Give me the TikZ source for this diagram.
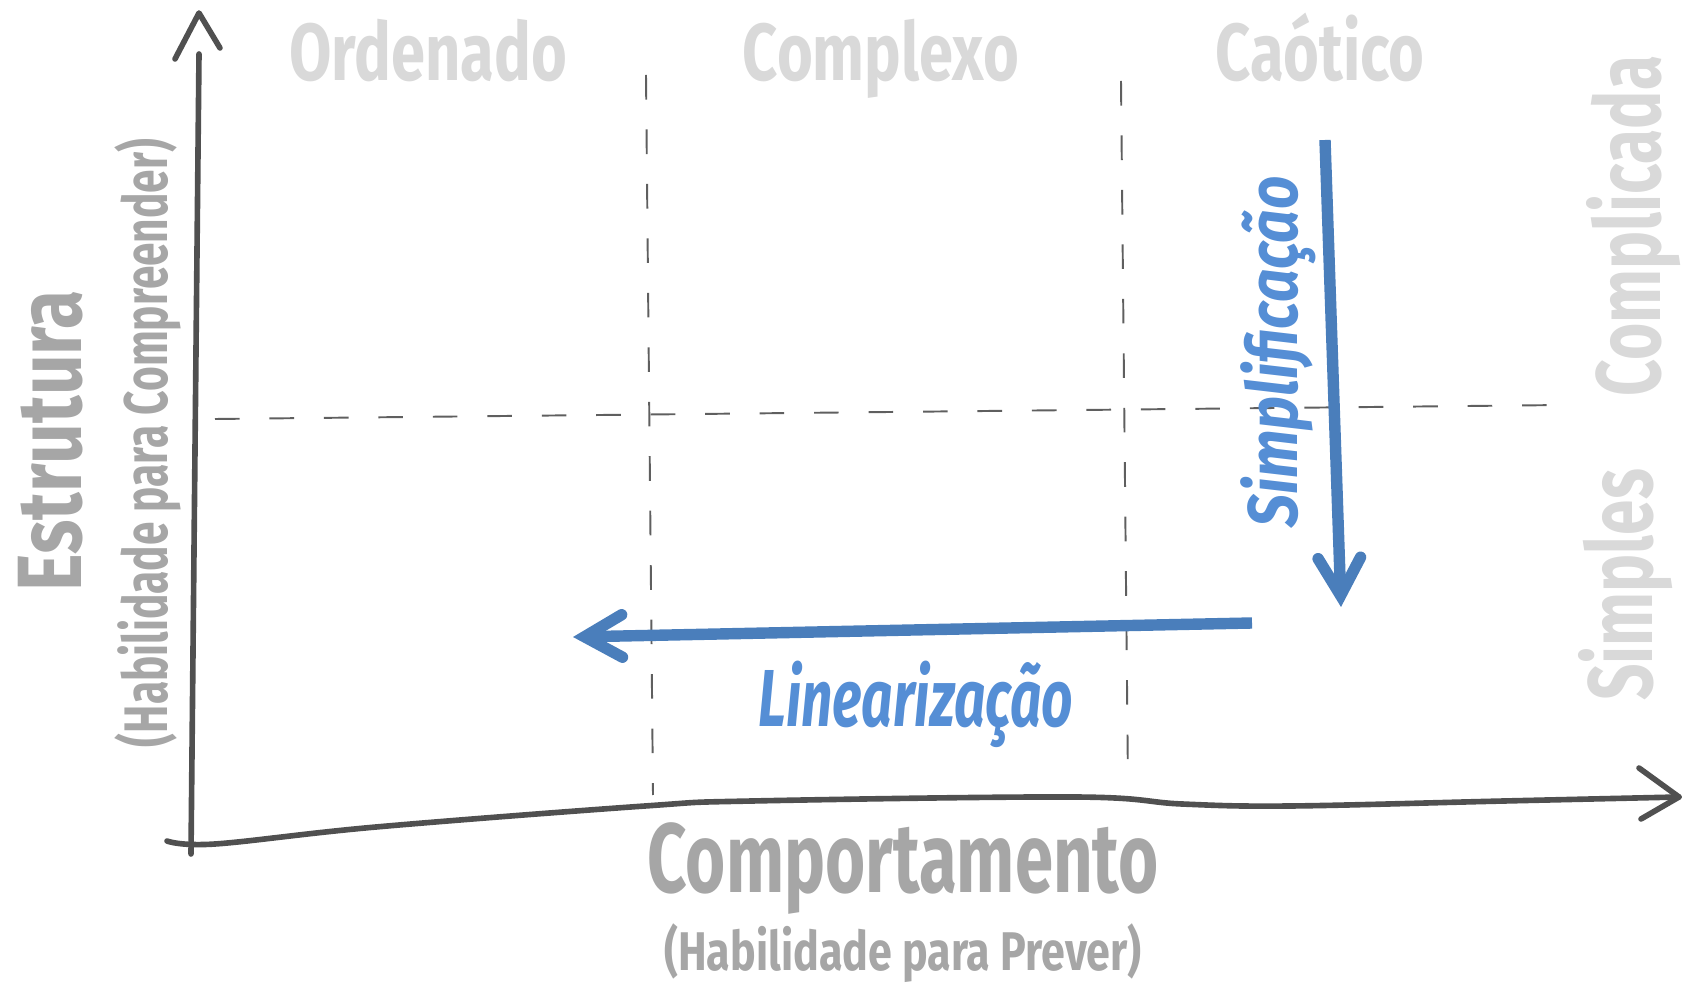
\documentclass[tikz,border=0pt]{standalone}
\usepackage{fontspec}
\setmainfont{Fira Sans}
\usetikzlibrary{arrows.meta}
\definecolor{LightGray}{RGB}{217,217,217}
\definecolor{MidGray}{RGB}{166,166,166}
\definecolor{AxisGray}{RGB}{80,80,80}
\definecolor{DashGray}{RGB}{95,95,95}
\definecolor{ArrowBlue}{RGB}{74,126,187}
\definecolor{TextBlue}{RGB}{85,142,213}
\newcommand{\squeeze}[2]{\scalebox{#1}[1]{#2}}

\begin{document}
\begin{tikzpicture}[x=0.02cm, y=-0.02cm, every node/.style={inner sep=0pt, anchor=base},
  regionlabel/.style={text=LightGray, font=\fontsize{46}{50}\selectfont\bfseries},
  axistitle/.style={text=MidGray, font=\fontsize{56}{60}\selectfont\bfseries},
  axissub/.style={text=MidGray, font=\fontsize{31}{34}\selectfont\bfseries},
  movelabel/.style={text=TextBlue, font=\fontsize{46}{50}\selectfont\bfseries\itshape},
  axisline/.style={draw=AxisGray, line width=3.2pt, line cap=round, line join=round},
  gridline/.style={draw=DashGray, line width=1.1pt, dash pattern=on 14pt off 17pt},
  arrow/.style={draw=ArrowBlue, line width=6.5pt, -{Straight Barb[length=0.75cm, width=0.85cm, line cap=round]}}]
\useasboundingbox (0,0) rectangle (1685,989);

\coordinate (origin) at (167,841);
\coordinate (ybase) at (191,854);
\coordinate (ytop) at (199,54);
\coordinate (ytip) at (199,13);
\coordinate (xtip) at (1679,797);

\draw [axisline] (ybase) -- (195,450) -- (ytop);
\draw [axisline] (175,59) -- (ytip) -- (220,48);
\draw [axisline] plot [smooth, tension=0.6] coordinates {(origin) (215,844) (376,827) (645,806) (752,801) (1075,797) (1182,804) (1290,806) (1504,801) (xtip)};
\draw [axisline] (1639,768) -- (xtip) -- (1641,819);

\coordinate (hLeft) at (215,419);
\coordinate (hRight) at (1564,405);
\coordinate (v1Top) at (646,75);
\coordinate (v1Bot) at (653,795);
\coordinate (v2Top) at (1121,81);
\coordinate (v2Bot) at (1128,784);
\draw [gridline] (hLeft) -- (hRight);
\draw [gridline] (v1Top) -- (v1Bot);
\draw [gridline] (v2Top) -- (v2Bot);

\node (ordenado) [regionlabel] at (428,81) {\squeeze{0.76}{Ordenado}};
\node (complexo) [regionlabel] at (881,81) {\squeeze{0.76}{Complexo}};
\node (caotico) [regionlabel] at (1320,81) {\squeeze{0.76}{Caótico}};
\node (complicada) [regionlabel, font=\fontsize{52}{56}\selectfont\bfseries, rotate=90] at (1660,226) {\squeeze{0.7}{Complicada}};
\node (simples) [regionlabel, font=\fontsize{52}{56}\selectfont\bfseries, rotate=90] at (1652,585) {\squeeze{0.7}{Simples}};

\node (estrutura) [axistitle, font=\fontsize{52}{56}\selectfont\bfseries, rotate=90] at (81,441) {\squeeze{0.78}{Estrutura}};
\node (compreender) [axissub, font=\fontsize{35}{38}\selectfont\bfseries, rotate=90] at (167,443) {\squeeze{0.69}{(Habilidade para Compreender)}};
\node (comportamento) [axistitle] at (903,892) {\squeeze{0.70}{Comportamento}};
\node (prever) [axissub] at (903,970) {\squeeze{0.79}{(Habilidade para Prever)}};

\coordinate (simStart) at (1325,140);
\coordinate (simEnd) at (1341,607);
\coordinate (linStart) at (1252,623);
\coordinate (linEnd) at (573,637);
\draw [arrow] (simStart) -- (simEnd);
\draw [arrow] (linStart) -- (linEnd);

\node (simplificacao) [movelabel, font=\fontsize{40}{44}\selectfont\bfseries\itshape, rotate=90] at (1297,352) {\squeeze{0.83}{Simplificação}};
\node (linearizacao) [movelabel] at (916,727) {\squeeze{0.68}{Linearização}};
\end{tikzpicture}
\end{document}
